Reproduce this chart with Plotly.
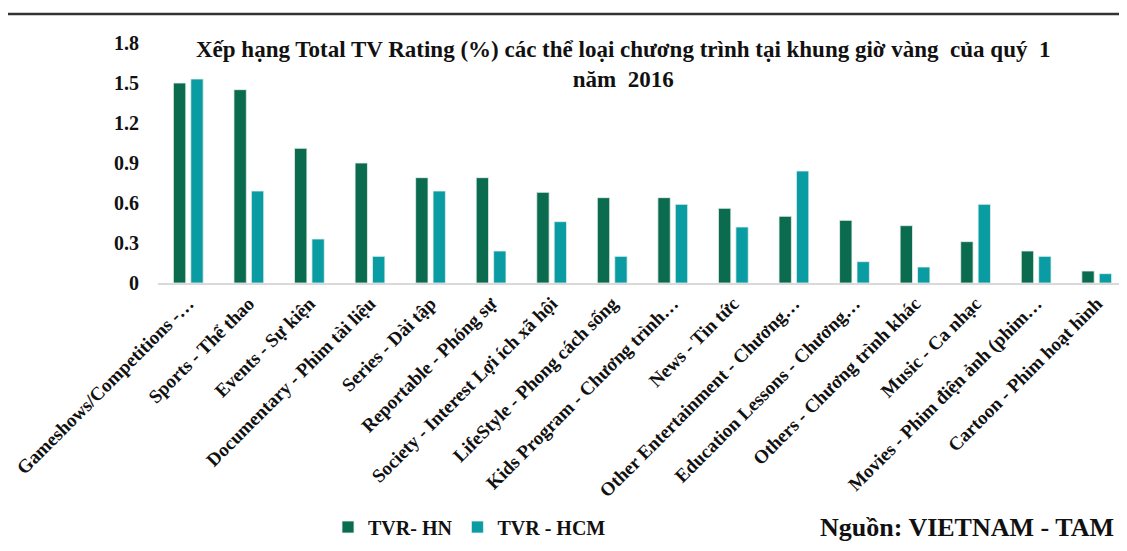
import plotly.graph_objects as go

categories = [
    "Gameshows/Competitions -…",
    "Sports - Thể thao",
    "Events - Sự kiện",
    "Documentary - Phim tài liệu",
    "Series - Dài tập",
    "Reportable - Phóng sự",
    "Society - Interest Lợi ích xã hội",
    "LifeStyle - Phong cách sống",
    "Kids Program - Chương trình…",
    "News - Tin tức",
    "Other Entertainment - Chương…",
    "Education Lessons - Chương…",
    "Others - Chương trình khác",
    "Music - Ca nhạc",
    "Movies - Phim điện ảnh (phim…",
    "Cartoon - Phim hoạt hình",
]
tvr_hn = [1.50, 1.45, 1.01, 0.90, 0.79, 0.79, 0.68, 0.64, 0.64, 0.56, 0.50, 0.47, 0.43, 0.31, 0.24, 0.09]
tvr_hcm = [1.53, 0.69, 0.33, 0.20, 0.69, 0.24, 0.46, 0.20, 0.59, 0.42, 0.84, 0.16, 0.12, 0.59, 0.20, 0.07]
y_ticks = [0, 0.3, 0.6, 0.9, 1.2, 1.5, 1.8]
y_ticklabels = ["0", "0.3", "0.6", "0.9", "1.2", "1.5", "1.8"]

FONT = "Liberation Serif"
HN_COLOR = "#0b6b4e"
HCM_COLOR = "#0a9ca3"
TXT = "#111111"

fig = go.Figure()
fig.add_trace(go.Bar(x=categories, y=tvr_hn, name="TVR- HN",
                     marker=dict(color=HN_COLOR, line=dict(color="#e8f0ee", width=0.8))))
fig.add_trace(go.Bar(x=categories, y=tvr_hcm, name="TVR - HCM",
                     marker=dict(color=HCM_COLOR, line=dict(color="#e8f0ee", width=0.8))))

# page body has an 8px margin; figure sized to fit the 1127x551 window
OFF = 8
W, H = 1119, 535
L, R, T, B = 150, 0, 35, 260
plot_w = W - L - R
plot_h = H - T - B


def px(p):
    return (p - OFF - L) / plot_w


def py(p):
    return (H - B - (p - OFF)) / plot_h


fig.update_layout(
    width=W, height=H,
    margin=dict(l=L, r=R, t=T, b=B, autoexpand=False),
    paper_bgcolor="white", plot_bgcolor="white",
    barmode="group", bargap=0.425, bargroupgap=0.29,
    font=dict(family=FONT, color=TXT),
    showlegend=True,
    legend=dict(orientation="h", x=px(328), y=py(527), xanchor="left", yanchor="middle",
                font=dict(family=FONT, size=20, color=TXT, weight="bold"),
                itemwidth=30, tracegroupgap=0, bgcolor="rgba(0,0,0,0)"),
    xaxis=dict(tickangle=-45, showgrid=False, showline=True, linecolor="#d9d9d9", linewidth=2,
               ticks="", tickfont=dict(family=FONT, size=19, color=TXT, weight="bold"),
               automargin=False),
    yaxis=dict(range=[0, 1.8], tickvals=y_ticks, ticktext=y_ticklabels, showgrid=False,
               zeroline=False, showline=False, ticks="", ticklabelstandoff=18,
               tickfont=dict(family=FONT, size=20, color=TXT, weight="bold"),
               automargin=False),
)

fig.add_shape(type="line", xref="paper", yref="paper", x0=px(8), x1=px(1127), y0=py(14), y1=py(14),
              line=dict(color="#333333", width=2.5))

fig.add_annotation(xref="paper", yref="paper", x=px(623), y=py(64), xanchor="center", yanchor="middle",
                   text="Xếp hạng Total TV Rating (%) các thể loại chương trình tại khung giờ vàng  của quý  1<br>năm  2016",
                   showarrow=False, align="center",
                   font=dict(family=FONT, size=23, color=TXT, weight="bold"))

fig.add_annotation(xref="paper", yref="paper", x=px(1116), y=py(527), xanchor="right", yanchor="middle",
                   text="Nguồn: VIETNAM - TAM", showarrow=False,
                   font=dict(family=FONT, size=26, color=TXT, weight="bold"))

fig.write_html("out.html")
